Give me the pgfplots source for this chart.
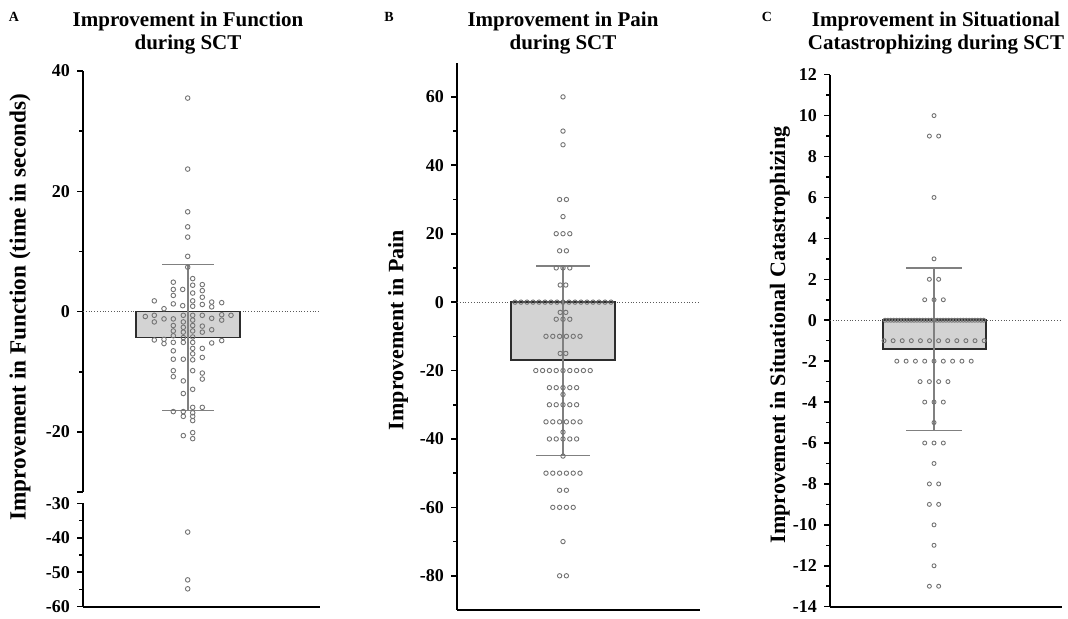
\documentclass[border=0pt]{standalone}
\usepackage{fontspec}
\setmainfont{Liberation Serif}
\usepackage{pgfplots}
\pgfplotsset{compat=1.18}
\definecolor{barfill}{RGB}{211,211,211}
\definecolor{bardraw}{RGB}{45,45,45}
\definecolor{errc}{RGB}{128,128,128}
\definecolor{dotc}{RGB}{115,115,115}
\definecolor{zeroc}{RGB}{90,90,90}
\pgfplotsset{
  panel/.style={scale only axis, clip=false, anchor=south west, xtick=\empty,
    axis y line*=left, axis x line*=bottom,
    axis line style={-, line width=1pt, black},
    tick align=outside, major tick length=3pt, minor tick length=1.8pt,
    tick style={black, line width=0.8pt},
    yticklabel={\textbf{\pgfmathprintnumber[assume math mode=true]{\tick}}},
    tick label style={font=\fontsize{9}{10}\selectfont\bfseries}},
  dots/.style={only marks, mark=o, color=dotc, mark size=#1,
    mark options={line width=0.45pt}},
  zeroline/.style={zeroc, densely dotted, line width=0.4pt},
  barsty/.style={fill=barfill, draw=bardraw, line width=0.8pt},
  errsty/.style={errc, line width=0.7pt},
}
\begin{document}
\begin{tikzpicture}
\useasboundingbox (0,0) rectangle (534pt,309.5pt);
% titles and panel letters
\node[font=\fontsize{7}{8}\selectfont\bfseries] at (7pt,301pt) {A};
\node[font=\fontsize{7}{8}\selectfont\bfseries] at (194.5pt,301pt) {B};
\node[font=\fontsize{7}{8}\selectfont\bfseries] at (383.5pt,301pt) {C};
\node[font=\fontsize{10.5}{11.5}\selectfont\bfseries, align=center] at (94pt,292.75pt) {Improvement in Function\\during SCT};
\node[font=\fontsize{10.5}{11.5}\selectfont\bfseries, align=center] at (281.5pt,292.75pt) {Improvement in Pain\\during SCT};
\node[font=\fontsize{10.5}{11.5}\selectfont\bfseries, align=center] at (468pt,292.75pt) {Improvement in Situational\\Catastrophizing during SCT};
\node[font=\fontsize{11.6}{12}\selectfont\bfseries, rotate=90] at (10pt,156pt) {Improvement in Function (time in seconds)};
\node[font=\fontsize{11}{12}\selectfont\bfseries, rotate=90] at (199pt,144.5pt) {Improvement in Pain};
\node[font=\fontsize{11}{12}\selectfont\bfseries, rotate=90] at (390pt,142pt) {Improvement in Situational Catastrophizing};

% ---- panel A, upper segment
\begin{axis}[panel, at={(41.5pt,63.4pt)}, width=118.5pt, height=210.6pt,
  axis x line=none, xmin=83, xmax=320, ymin=-30, ymax=40,
  ytick={-20,0,20,40}, minor ytick={-10,10,30},
  extra y ticks={-30}, extra y tick labels={}]
\addplot[zeroline] coordinates {(83,0) (320,0)};
\addplot[barsty] coordinates {(136,0) (240,0) (240,-4.3) (136,-4.3)} -- cycle;
\addplot[errsty] coordinates {(188,-16.4) (188,7.8)};
\addplot[errsty] coordinates {(162,7.8) (214,7.8)};
\addplot[errsty] coordinates {(162,-16.4) (214,-16.4)};
\addplot[dots=1.15pt] coordinates {
(187.7,35.5) (187.7,23.7) (187.7,16.6) (187.7,14.1) (187.7,12.4) (187.7,9.2) (187.7,7.4)
(164,0.5) (154.3,1.8) (173.3,4.9) (173.3,3.7) (173.3,2.7) (173.3,1.3) (182.7,3.7) (182.7,1.0)
(192.7,5.5) (192.7,4.4) (192.7,3.1) (192.7,1.8) (192.7,0.9) (202.3,4.5) (202.3,3.5) (202.3,2.4) (202.3,1.2)
(211.7,1.6) (211.7,0.8) (221.7,1.5)
(145.3,-0.8) (154.3,-0.6) (154.3,-1.7) (164,-1.2) (173.3,-1.2) (173.3,-2.3) (173.3,-3.2) (173.3,-4.0)
(183.3,-0.6) (183.3,-1.7) (183.3,-2.6) (183.3,-3.4) (183.3,-4.3)
(192.7,-0.6) (192.7,-1.4) (192.7,-2.3) (192.7,-3.2) (192.7,-4.2)
(202.3,-0.6) (202.3,-2.4) (202.3,-3.4) (211.7,-1.1) (211.7,-3.0) (221.7,-0.5) (221.7,-1.4) (231,-0.6)
(154.3,-4.7) (164,-4.6) (164,-5.3) (173.3,-5.1) (173.3,-6.5) (173.3,-7.9) (173.3,-9.8) (173.3,-10.8)
(183.3,-5.1) (183.3,-7.9) (183.3,-11.5) (183.3,-13.6)
(192.7,-5.1) (192.7,-6.1) (192.7,-7.0) (192.7,-8.0) (192.7,-9.8) (192.7,-12.9) (192.7,-15.9)
(202.3,-6.1) (202.3,-7.6) (202.3,-10.2) (202.3,-11.2) (202.3,-15.9) (211.7,-5.2) (221.7,-4.8)
(173.3,-16.6) (183.3,-16.6) (183.3,-17.4) (192.7,-16.8) (192.7,-17.4) (192.7,-18.1)
(183.3,-20.6) (192.7,-20.1) (192.7,-21.1)
};
\end{axis}

% ---- panel A, lower segment
\begin{axis}[panel, at={(41.5pt,6.15pt)}, width=118.5pt, height=51.6pt,
  xmin=83, xmax=320, ymin=-60, ymax=-30,
  ytick={-60,-50,-40,-30}, minor ytick={-55,-45,-35}]
\addplot[dots=1.15pt] coordinates {(187.7,-38.3) (187.7,-52.2) (187.7,-54.8)};
\end{axis}

% ---- panel B
\begin{axis}[panel, at={(228.5pt,4.5pt)}, width=121.5pt, height=273.65pt,
  xmin=457, xmax=700, ymin=-90, ymax=70,
  ytick={-80,-60,-40,-20,0,20,40,60}, minor ytick={-70,-50,-30,-10,10,30,50}]
\addplot[zeroline] coordinates {(457,0) (700,0)};
\addplot[barsty] coordinates {(511,0) (615,0) (615,-17) (511,-17)} -- cycle;
\addplot[errsty] coordinates {(563,-44.9) (563,10.6)};
\addplot[errsty] coordinates {(536,10.6) (590,10.6)};
\addplot[errsty] coordinates {(536,-44.9) (590,-44.9)};
\addplot[dots=1.1pt] coordinates {
(563,60) (563,50) (563,46) (559.6,30) (566.4,30) (563,25)
(556.2,20) (563,20) (569.8,20) (559.6,15) (566.4,15)
(556.2,10) (563,10) (569.8,10) (560.2,5) (565.8,5)
(515,0) (521,0) (527,0) (533,0) (539,0) (545,0) (551,0) (557,0) (563,0)
(569,0) (575,0) (581,0) (587,0) (593,0) (599,0) (605,0) (611,0)
(560.2,-3) (565.8,-3) (556.2,-5) (563,-5) (569.8,-5)
(546,-10) (552.8,-10) (559.6,-10) (566.4,-10) (573.2,-10) (580,-10)
(560.2,-15) (565.8,-15)
(535.8,-20) (542.6,-20) (549.4,-20) (556.2,-20) (563,-20) (569.8,-20) (576.6,-20) (583.4,-20) (590.2,-20)
(549.4,-25) (556.2,-25) (563,-25) (569.8,-25) (576.6,-25) (563,-27)
(549.4,-30) (556.2,-30) (563,-30) (569.8,-30) (576.6,-30)
(546,-35) (552.8,-35) (559.6,-35) (566.4,-35) (573.2,-35) (580,-35) (563,-38)
(549.4,-40) (556.2,-40) (563,-40) (569.8,-40) (576.6,-40) (563,-45)
(546,-50) (552.8,-50) (559.6,-50) (566.4,-50) (573.2,-50) (580,-50)
(559.6,-55) (566.4,-55)
(552.8,-60) (559.6,-60) (566.4,-60) (573.2,-60)
(563,-70) (559.6,-80) (566.4,-80)
};
\end{axis}

% ---- panel C
\begin{axis}[panel, at={(415pt,6.15pt)}, width=116pt, height=266pt,
  xmin=830, xmax=1062, ymin=-14, ymax=12,
  ytick={-14,-12,...,12}, minor ytick={-13,-11,...,11}]
\addplot[zeroline] coordinates {(830,0) (1062,0)};
\addplot[barsty] coordinates {(883,0) (986,0) (986,-1.41) (883,-1.41)} -- cycle;
\addplot[errsty] coordinates {(934,-5.39) (934,2.56)};
\addplot[errsty] coordinates {(906,2.56) (962,2.56)};
\addplot[errsty] coordinates {(906,-5.39) (962,-5.39)};
\addplot[dots=1.0pt] coordinates {
(934,10) (929.35,9) (938.65,9) (934,6) (934,3) (929.35,2) (938.65,2)
(924.7,1) (934,1) (943.3,1)
(885,0) (887.9,0) (890.8,0) (893.7,0) (896.6,0) (899.5,0) (902.4,0) (905.3,0) (908.2,0)
(911.1,0) (914,0) (916.9,0) (919.8,0) (922.7,0) (925.6,0) (928.5,0) (931.4,0) (934.3,0)
(937.2,0) (940.1,0) (943,0) (945.9,0) (948.8,0) (951.7,0) (954.6,0) (957.5,0) (960.4,0)
(963.3,0) (966.2,0) (969.1,0) (972,0) (974.9,0) (977.8,0) (980.7,0) (983.6,0)
(884,-1) (893.1,-1) (902.2,-1) (911.3,-1) (920.4,-1) (929.5,-1) (938.6,-1) (947.7,-1)
(956.8,-1) (965.9,-1) (975,-1) (984.1,-1)
(896.8,-2) (906.1,-2) (915.4,-2) (924.7,-2) (934,-2) (943.3,-2) (952.6,-2) (961.9,-2) (971.2,-2)
(920.05,-3) (929.35,-3) (938.65,-3) (947.95,-3)
(924.7,-4) (934,-4) (943.3,-4) (934,-5)
(924.7,-6) (934,-6) (943.3,-6) (934,-7)
(929.35,-8) (938.65,-8) (929.35,-9) (938.65,-9)
(934,-10) (934,-11) (934,-12) (929.35,-13) (938.65,-13)
};
\end{axis}
\end{tikzpicture}
\end{document}
